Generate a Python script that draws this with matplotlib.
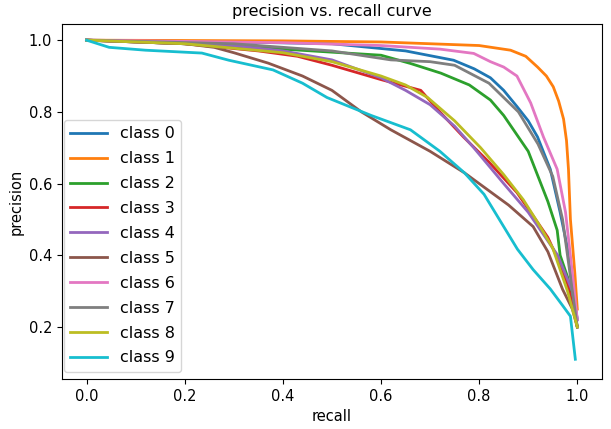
import numpy as np
import matplotlib
matplotlib.use('Agg')
import matplotlib.pyplot as plt

# ============ 读图估计的数据 (recall, precision) ============
classes = ['class 0', 'class 1', 'class 2', 'class 3', 'class 4',
           'class 5', 'class 6', 'class 7', 'class 8', 'class 9']

recall_0 = [0.0, 0.3, 0.5, 0.65, 0.748, 0.79, 0.823, 0.85, 0.877, 0.9, 0.919, 0.945, 0.965, 0.98, 0.992, 1.0]
prec_0 = [1.0, 0.995, 0.99, 0.97, 0.944, 0.92, 0.895, 0.86, 0.815, 0.775, 0.73, 0.64, 0.52, 0.42, 0.3, 0.22]

recall_1 = [0.0, 0.4, 0.6, 0.8, 0.864, 0.895, 0.919, 0.937, 0.951, 0.962, 0.972, 0.978, 0.982, 0.986, 0.995, 1.0]
prec_1 = [1.0, 0.998, 0.995, 0.985, 0.972, 0.955, 0.925, 0.9, 0.87, 0.83, 0.78, 0.72, 0.64, 0.5, 0.35, 0.25]

recall_2 = [0.0, 0.2, 0.4, 0.6, 0.66, 0.722, 0.78, 0.823, 0.85, 0.87, 0.9, 0.92, 0.94, 0.959, 0.965, 0.98, 0.99, 1.0]
prec_2 = [1.0, 0.99, 0.975, 0.958, 0.935, 0.908, 0.875, 0.833, 0.79, 0.75, 0.69, 0.62, 0.55, 0.47, 0.4, 0.34, 0.28, 0.2]

recall_3 = [0.0, 0.2, 0.35, 0.43, 0.5, 0.6, 0.681, 0.72, 0.768, 0.82, 0.877, 0.91, 0.94, 0.96, 0.98, 1.0]
prec_3 = [1.0, 0.99, 0.97, 0.955, 0.93, 0.89, 0.86, 0.80, 0.73, 0.66, 0.575, 0.51, 0.45, 0.39, 0.32, 0.2]

recall_4 = [0.0, 0.3, 0.4, 0.5, 0.6, 0.65, 0.7, 0.75, 0.789, 0.85, 0.9, 0.93, 0.96, 0.99, 1.0]
prec_4 = [1.0, 0.985, 0.97, 0.945, 0.895, 0.86, 0.82, 0.76, 0.70, 0.6, 0.52, 0.46, 0.4, 0.3, 0.22]

recall_5 = [0.0, 0.2, 0.26, 0.3, 0.37, 0.44, 0.5, 0.56, 0.62, 0.7, 0.77, 0.81, 0.86, 0.91, 0.94, 0.97, 0.99, 1.0]
prec_5 = [1.0, 0.99, 0.98, 0.965, 0.936, 0.9, 0.86, 0.8, 0.75, 0.69, 0.63, 0.59, 0.54, 0.48, 0.41, 0.305, 0.25, 0.2]

recall_6 = [0.0, 0.4, 0.6, 0.72, 0.789, 0.823, 0.85, 0.877, 0.905, 0.931, 0.959, 0.976, 0.99, 1.0]
prec_6 = [1.0, 0.993, 0.985, 0.975, 0.963, 0.94, 0.925, 0.90, 0.825, 0.73, 0.64, 0.52, 0.35, 0.22]

recall_7 = [0.0, 0.3, 0.5, 0.62, 0.7, 0.75, 0.82, 0.88, 0.92, 0.95, 0.97, 0.99, 1.0]
prec_7 = [1.0, 0.99, 0.97, 0.945, 0.94, 0.93, 0.88, 0.80, 0.71, 0.62, 0.5, 0.3, 0.2]

recall_8 = [0.0, 0.2, 0.4, 0.5, 0.6, 0.65, 0.695, 0.75, 0.803, 0.85, 0.89, 0.92, 0.95, 0.98, 1.0]
prec_8 = [1.0, 0.99, 0.965, 0.94, 0.9, 0.875, 0.84, 0.775, 0.70, 0.625, 0.555, 0.49, 0.42, 0.3, 0.2]

recall_9 = [0.0, 0.046, 0.12, 0.235, 0.29, 0.38, 0.44, 0.49, 0.58, 0.66, 0.72, 0.77, 0.81, 0.85, 0.878, 0.91, 0.945, 0.97, 0.986, 0.996]
prec_9 = [1.0, 0.98, 0.972, 0.964, 0.944, 0.917, 0.88, 0.84, 0.79, 0.75, 0.69, 0.63, 0.57, 0.48, 0.417, 0.36, 0.306, 0.26, 0.23, 0.11]

recalls = [recall_0, recall_1, recall_2, recall_3, recall_4,
           recall_5, recall_6, recall_7, recall_8, recall_9]
precs = [prec_0, prec_1, prec_2, prec_3, prec_4,
         prec_5, prec_6, prec_7, prec_8, prec_9]
# =========================================================

fig = plt.figure(figsize=(6.11, 4.29), dpi=100)
ax = fig.add_axes([0.1015, 0.1166, 0.8835, 0.8274])

for name, r, p in zip(classes, recalls, precs):
    ax.plot(r, p, lw=2, label=name)

ax.set_xlim(-0.05, 1.05)
ax.set_ylim(0.055, 1.045)
ax.set_xticks([0.0, 0.2, 0.4, 0.6, 0.8, 1.0])
ax.set_yticks([0.2, 0.4, 0.6, 0.8, 1.0])
ax.tick_params(labelsize=10.5)

ax.set_xlabel('recall', fontsize=10.5)
ax.set_ylabel('precision', fontsize=10.5)
ax.set_title('precision vs. recall curve', fontsize=11.5)

ax.legend(loc='lower left', bbox_to_anchor=(0.003, 0.02), borderaxespad=0,
          fontsize=11.5, labelspacing=0.62, handlelength=2.3)

fig.savefig('out.png', dpi=100)
